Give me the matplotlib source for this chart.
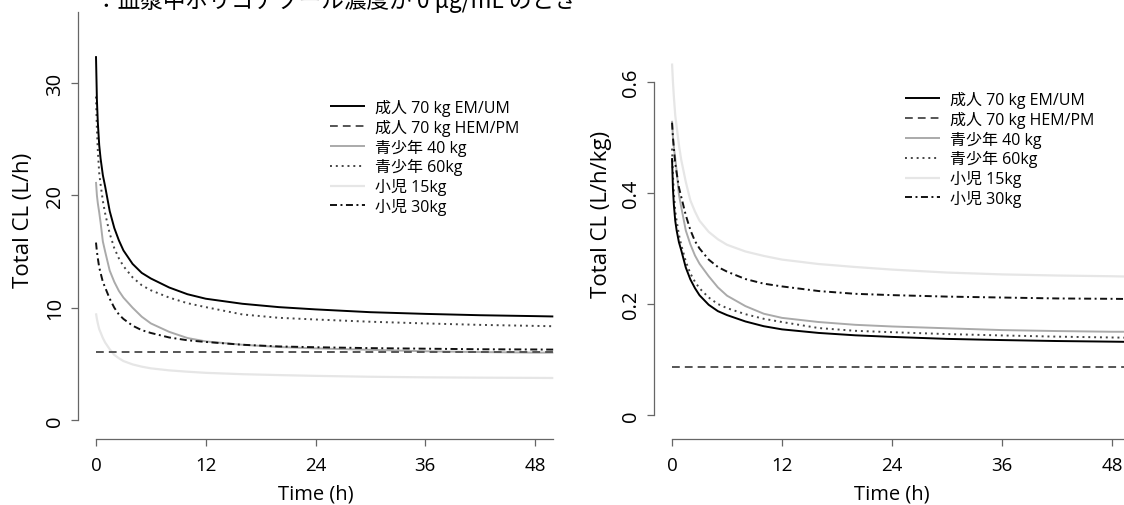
import matplotlib
matplotlib.use('Agg')
import matplotlib.pyplot as plt
import matplotlib.transforms as mtransforms

plt.rcParams['font.family'] = ['Open Sans', 'Noto Sans CJK JP', 'DejaVu Sans']

# ---------------- data ----------------
time_h = [0, 0.1, 0.2, 0.35, 0.5, 0.75, 1, 1.5, 2, 2.5, 3, 4, 5, 6, 8, 10, 12,
          16, 20, 24, 30, 36, 42, 48, 50]
hem_time_h = [0, 50]

series_labels = ['成人 70 kg EM/UM', '成人 70 kg HEM/PM', '青少年 40 kg',
                 '青少年 60kg', '小児 15kg', '小児 30kg']
weights_kg = [70, 70, 40, 60, 15, 30]

cl_adult_em = [32.4, 28.5, 26.5, 24.5, 23.3, 21.8, 20.8, 18.6, 17.1, 16.0, 15.1,
               13.9, 13.1, 12.6, 11.8, 11.2, 10.8, 10.35, 10.05, 9.85, 9.6, 9.45,
               9.33, 9.25, 9.22]
cl_adult_hem = [6.05, 6.05]
cl_teen40 = [21.2, 20.0, 19.3, 18.5, 17.6, 15.9, 15.0, 13.3, 12.3, 11.5, 10.9,
             10.0, 9.2, 8.6, 7.85, 7.3, 7.0, 6.7, 6.5, 6.38, 6.25, 6.12, 6.05,
             6.0, 6.0]
cl_teen60 = [28.8, 25.9, 24.0, 22.0, 21.0, 19.5, 18.4, 16.6, 15.3, 14.4, 13.7,
             12.7, 12.0, 11.55, 10.9, 10.4, 10.05, 9.4, 9.1, 8.95, 8.75, 8.6,
             8.47, 8.38, 8.35]
cl_child15 = [9.5, 9.0, 8.6, 8.1, 7.8, 7.3, 6.9, 6.3, 5.8, 5.5, 5.25, 4.95, 4.75,
              4.6, 4.42, 4.3, 4.2, 4.08, 4.0, 3.93, 3.85, 3.8, 3.77, 3.75, 3.74]
cl_child30 = [15.8, 15.0, 14.4, 13.6, 13.1, 12.3, 11.8, 10.8, 10.0, 9.4, 9.0,
              8.4, 8.0, 7.75, 7.35, 7.1, 6.95, 6.7, 6.55, 6.48, 6.4, 6.35, 6.3,
              6.28, 6.27]

x_ticks = [0, 12, 24, 36, 48]
left_y_ticks = [0, 10, 20, 30]
right_y_ticks = [0, 0.2, 0.4, 0.6]
right_y_ticklabels = ['0', '0.2', '0.4', '0.6']

title_text = '：血漿中ボリコナゾール濃度が 0 μg/mL のとき'

# ---------------- styles ----------------
styles = [
    dict(color='#000000', lw=1.4, ls='-'),
    dict(color='#555555', lw=1.4, ls=(0, (4, 2.6))),
    dict(color='#aaaaaa', lw=1.4, ls='-'),
    dict(color='#444444', lw=1.4, ls=(0, (1, 2))),
    dict(color='#e6e6e6', lw=1.6, ls='-'),
    dict(color='#111111', lw=1.4, ls=(0, (3.6, 1.8, 1, 1.8))),
]

W, H = 1124, 506
fig = plt.figure(figsize=(W / 100, H / 100), dpi=100)


def px_axes(l, r, t, b):
    return fig.add_axes([l / W, 1 - b / H, (r - l) / W, (b - t) / H])


axL = px_axes(77.7, 571.6, 0, 440)
axR = px_axes(653.7, 1148.7, 0, 440)

series_x = [time_h, hem_time_h, time_h, time_h, time_h, time_h]
series_y = [cl_adult_em, cl_adult_hem, cl_teen40, cl_teen60, cl_child15, cl_child30]

# draw light lines first so the darker ones stay on top
order = [4, 2, 1, 3, 5, 0]
handlesL = [None] * 6
handlesR = [None] * 6
for i in order:
    st = styles[i]
    (hl,) = axL.plot(series_x[i], series_y[i], color=st['color'], lw=st['lw'],
                     linestyle=st['ls'], solid_capstyle='butt', clip_on=False)
    per_kg = [v / weights_kg[i] for v in series_y[i]]
    (hr,) = axR.plot(series_x[i], per_kg, color=st['color'], lw=st['lw'],
                     linestyle=st['ls'], solid_capstyle='butt', clip_on=False)
    handlesL[i] = hl
    handlesR[i] = hr

axis_color = '#666666'
for ax in (axL, axR):
    ax.set_xlim(-2, 52)
    ax.spines['top'].set_visible(False)
    ax.spines['right'].set_visible(False)
    for s in ('left', 'bottom'):
        ax.spines[s].set_color(axis_color)
        ax.spines[s].set_linewidth(0.9)
    ax.spines['bottom'].set_bounds(0, 50)
    ax.set_xticks(x_ticks)
    ax.set_xticklabels([str(t) for t in x_ticks])
    ax.tick_params(axis='x', length=5, width=0.9, color=axis_color,
                   labelsize=13.5, pad=7)
    ax.tick_params(axis='y', length=5, width=0.9, color=axis_color,
                   labelsize=14.5, pad=3.8, labelrotation=90)
    ax.patch.set_visible(False)

axL.set_ylim(-19 / 11.23, 421 / 11.23)
axL.spines['left'].set_bounds(0, 36.3)
axL.set_yticks(left_y_ticks)
axL.set_yticklabels([str(v) for v in left_y_ticks])

axR.set_ylim(-24 / 555, 416 / 555)
axR.spines['left'].set_bounds(0, 0.6)
axR.set_yticks(right_y_ticks)
axR.set_yticklabels(right_y_ticklabels)

for ax in (axL, axR):
    for lab in ax.get_yticklabels():
        lab.set_va('center')

# axis labels
for ax in (axL, axR):
    tr = mtransforms.blended_transform_factory(ax.transData, fig.transFigure)
    ax.text(24, 1 - 500 / H, 'Time (h)', transform=tr, ha='center',
            va='baseline', fontsize=14.5)
fig.text(24 / W, 1 - 220 / H, 'Total CL (L/h)', rotation=90, ha='center',
         va='center', fontsize=16)
fig.text(602 / W, 1 - 214 / H, 'Total CL (L/h/kg)', rotation=90, ha='center',
         va='center', fontsize=16)

# legends
fs_leg = 11.5
em_px = fs_leg * 100 / 72
for ax, hs, (lx, ty) in ((axL, handlesL, (330, 100)), (axR, handlesR, (905, 92))):
    ax.legend(hs, series_labels, loc='upper left',
              bbox_to_anchor=(lx / W, 1 - ty / H), bbox_transform=fig.transFigure,
              frameon=False, fontsize=fs_leg, handlelength=35 / em_px,
              handletextpad=10 / em_px, borderpad=0, borderaxespad=0,
              labelspacing=0.17)

# title (partially cut at the top edge, as in the reference)
fig.text(95 / W, 1 - 8 / H, title_text, ha='left', va='baseline',
         fontsize=16.3, family=['Noto Sans CJK JP', 'DejaVu Sans'])

fig.savefig('out.png', dpi=100)
